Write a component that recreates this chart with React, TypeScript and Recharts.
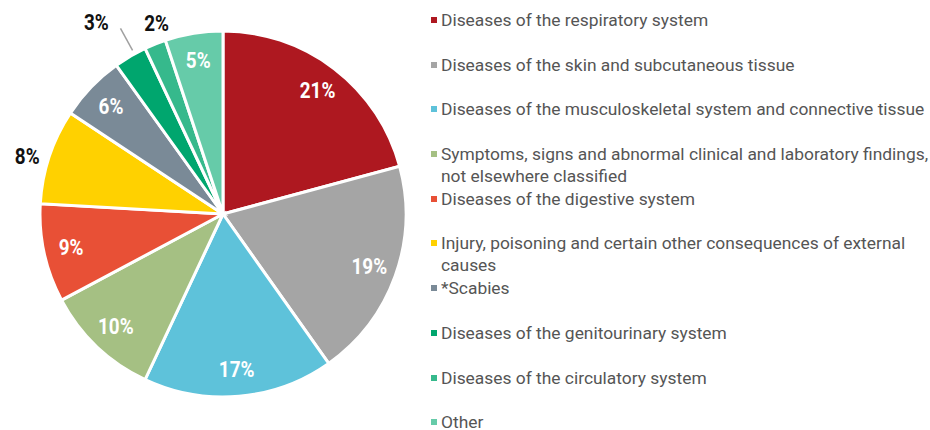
import React from 'react';
import { PieChart, Pie, Cell, Legend } from 'recharts';

const categories = [
  'Diseases of the respiratory system',
  'Diseases of the skin and subcutaneous tissue',
  'Diseases of the musculoskeletal system and connective tissue',
  'Symptoms, signs and abnormal clinical and laboratory findings, not elsewhere classified',
  'Diseases of the digestive system',
  'Injury, poisoning and certain other consequences of external causes',
  '*Scabies',
  'Diseases of the genitourinary system',
  'Diseases of the circulatory system',
  'Other',
];

const shares = [20.8, 19.4, 16.8, 10.2, 8.7, 8.4, 5.8, 2.9, 1.9, 5.1];

const colors = [
  '#AE1820',
  '#A5A5A5',
  '#5EC2DA',
  '#A5C083',
  '#E85036',
  '#FFD100',
  '#7A8A97',
  '#00A66E',
  '#36B98C',
  '#66CBA9',
];

const data = categories.map((name, i) => ({ name, value: shares[i] }));

// label placement style for slices whose label sits outside the pie
const outsideLabels: Record<number, { r: number; da: number; line?: boolean }> = {
  5: { r: 204, da: 2 },
  7: { r: 230, da: 3, line: true },
  8: { r: 202, da: -2.6 },
};

const RAD = Math.PI / 180;
const LABEL_FONT = "Roboto, 'DejaVu Sans Condensed', sans-serif";

const LabelText = ({ x, y, fill, children }: any) => (
  <text
    transform={`translate(${x},${y}) scale(0.84,1)`}
    x={0}
    y={0}
    fill={fill}
    textAnchor="middle"
    dominantBaseline="central"
    fontFamily={LABEL_FONT}
    fontWeight="bold"
    fontSize={22.5}
  >
    {children}
  </text>
);

const renderLabel = (props: any) => {
  const { cx, cy, midAngle, outerRadius, index, value } = props;
  const out = outsideLabels[index];
  const txt = `${Math.round(value)}%`;
  if (out) {
    const a = (midAngle + out.da) * RAD;
    const x = cx + out.r * Math.cos(a);
    const y = cy - out.r * Math.sin(a);
    const la = (midAngle - 1.5) * RAD;
    return (
      <g>
        {out.line && (
          <line
            x1={cx + (outerRadius + 4) * Math.cos(la)}
            y1={cy - (outerRadius + 4) * Math.sin(la)}
            x2={cx + (outerRadius + 29) * Math.cos(la)}
            y2={cy - (outerRadius + 29) * Math.sin(la)}
            stroke="#A0A0A0"
            strokeWidth={1.5}
          />
        )}
        <LabelText x={x} y={y} fill="#111">
          {txt}
        </LabelText>
      </g>
    );
  }
  const r = outerRadius * 0.85;
  const a = midAngle * RAD;
  return (
    <LabelText x={cx + r * Math.cos(a)} y={cy - r * Math.sin(a)} fill="#fff">
      {txt}
    </LabelText>
  );
};

const renderLegend = () => (
  <div style={{ fontFamily: "Roboto, 'Noto Sans', sans-serif", fontSize: 17.4, color: '#555' }}>
    {categories.map((name, i) => {
      const last = i === categories.length - 1;
      return (
        <div
          key={name}
          style={{
            position: 'relative',
            height: 44.7,
            paddingLeft: 13,
            paddingTop: last ? 3 : 0,
            lineHeight: last ? '16px' : '22px',
            boxSizing: 'border-box',
          }}
        >
          <span
            style={{
              position: 'absolute',
              left: 3,
              top: 8,
              width: 6,
              height: 6,
              background: colors[i],
            }}
          />
          {name}
        </div>
      );
    })}
  </div>
);

export default function App() {
  return (
    <div style={{ position: 'absolute', left: 0, top: 0, width: 930, height: 430, background: '#fff', overflow: 'hidden' }}>
      <PieChart width={930} height={430} margin={{ top: 0, right: 0, bottom: 0, left: 0 }}>
        <Pie
          data={data}
          dataKey="value"
          nameKey="name"
          cx={223}
          cy={214}
          outerRadius={183}
          startAngle={90}
          endAngle={-270}
          stroke="#fff"
          strokeWidth={3}
          label={renderLabel}
          labelLine={false}
          isAnimationActive={false}
        >
          {data.map((d, i) => (
            <Cell key={d.name} fill={colors[i]} />
          ))}
        </Pie>
        <Legend
          content={renderLegend}
          layout="vertical"
          verticalAlign="top"
          align="right"
          wrapperStyle={{ position: 'absolute', left: 428, top: 9, width: 510 }}
        />
      </PieChart>
    </div>
  );
}
